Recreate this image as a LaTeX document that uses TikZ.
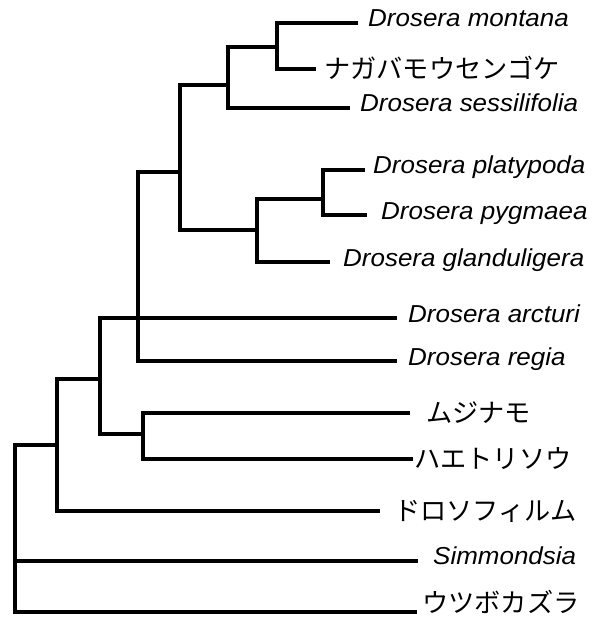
\documentclass[tikz,border=0pt]{standalone}
\usepackage{fontspec}
\setmainfont{Liberation Sans}[FakeStretch=1.06]
\newfontfamily\jpfont{Noto Sans CJK JP}
\usepackage{tikz}
\usetikzlibrary{positioning}

\begin{document}
\begin{tikzpicture}[
  x=1pt,y=-1pt,
  branch/.style={line width=3.6pt,black},
  sp/.style={inner sep=0pt,font=\fontsize{24.5}{26}\selectfont\itshape,text height=14pt,text depth=6pt},
  jp/.style={inner sep=0pt,font=\jpfont\fontsize{26.2}{28}\selectfont,text height=22pt,text depth=2.5pt}
]
\useasboundingbox (0,0) rectangle (592,620);

% branch tips
\coordinate (mon-t) at (358,23);
\coordinate (nag-t) at (316,69);
\coordinate (ses-t) at (350,108);
\coordinate (pla-t) at (365,170);
\coordinate (pyg-t) at (367,215);
\coordinate (gla-t) at (330,262);
\coordinate (arc-t) at (397,318);
\coordinate (reg-t) at (397,361);
\coordinate (muj-t) at (410,413);
\coordinate (hae-t) at (413,459);
\coordinate (dro-t) at (380,511);
\coordinate (sim-t) at (418,561);
\coordinate (utu-t) at (417,612);

% forks
\coordinate (n1) at (277,47);
\coordinate (n2) at (228,85);
\coordinate (n3) at (323,199);
\coordinate (n4) at (257,230);
\coordinate (n5) at (180,172);
\coordinate (n6) at (138,318);
\coordinate (n7) at (100,379);
\coordinate (n8) at (143,434);
\coordinate (n9) at (57,445);
\coordinate (root) at (15,445);

% taxa
\node[sp,right=10pt of mon-t] (mon) {Drosera montana};
\node[jp,right=8pt of nag-t] (nag) {ナガバモウセンゴケ};
\node[sp,right=10pt of ses-t] (ses) {Drosera sessilifolia};
\node[sp,right=8pt of pla-t] (pla) {Drosera platypoda};
\node[sp,right=14pt of pyg-t] (pyg) {Drosera pygmaea};
\node[sp,right=13pt of gla-t] (gla) {Drosera glanduligera};
\node[sp,right=11pt of arc-t] (arc) {Drosera arcturi};
\node[sp,right=11pt of reg-t] (reg) {Drosera regia};
\node[jp,right=16pt of muj-t] (muj) {ムジナモ};
\node[jp,right=1pt of hae-t] (hae) {ハエトリソウ};
\node[jp,right=14pt of dro-t] (dro) {ドロソフィルム};
\node[sp,right=15pt of sim-t,yshift=1pt] (sim) {Simmondsia};
\node[jp,right=5pt of utu-t,yshift=9pt] (utu) {ウツボカズラ};

\draw[branch] (mon-t) -| (n1) |- (nag-t);
\draw[branch] (n1) -| (n2) |- (ses-t);
\draw[branch] (pla-t) -| (n3) |- (pyg-t);
\draw[branch] (n3) -| (n4) |- (gla-t);
\draw[branch] (n2) -| (n5) |- (n4);
\draw[branch] (n5) -| (n6) |- (reg-t);
\draw[branch] (arc-t) -| (n7) |- (n8);
\draw[branch] (muj-t) -| (n8) |- (hae-t);
\draw[branch] (n7) -| (n9) |- (dro-t);
\draw[branch] (n9) -- (root) |- (utu-t);
\draw[branch] (root) |- (sim-t);
\end{tikzpicture}
\end{document}
